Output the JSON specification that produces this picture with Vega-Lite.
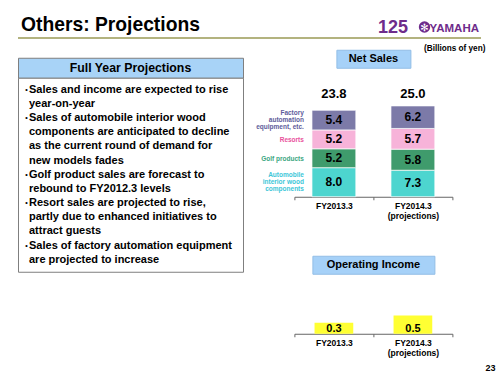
{
  "$schema": "https://vega.github.io/schema/vega-lite/v6.json",
  "padding": {"left": 17, "top": 0, "right": 0, "bottom": 0},
  "background": "white",
  "config": {"font": "Liberation Sans", "view": {"stroke": null}},
  "datasets": {
    "ns": [
      {"fy": "FY2013.3", "seg": "Automobile interior wood components", "rank": 1, "v": 8.0, "lbl": ["Automobile", "interior wood", "components"]},
      {"fy": "FY2013.3", "seg": "Golf products", "rank": 2, "v": 5.2, "lbl": "Golf products"},
      {"fy": "FY2013.3", "seg": "Resorts", "rank": 3, "v": 5.2, "lbl": "Resorts"},
      {"fy": "FY2013.3", "seg": "Factory automation equipment, etc.", "rank": 4, "v": 5.4, "lbl": ["Factory", "automation", "equipment, etc."]},
      {"fy": "FY2014.3 (projections)", "seg": "Automobile interior wood components", "rank": 1, "v": 7.3},
      {"fy": "FY2014.3 (projections)", "seg": "Golf products", "rank": 2, "v": 5.8},
      {"fy": "FY2014.3 (projections)", "seg": "Resorts", "rank": 3, "v": 5.7},
      {"fy": "FY2014.3 (projections)", "seg": "Factory automation equipment, etc.", "rank": 4, "v": 6.2}
    ],
    "oi": [
      {"fy": "FY2013.3", "v": 0.3},
      {"fy": "FY2014.3 (projections)", "v": 0.5}
    ],
    "notes": [
      {"n": 1, "t": "Sales and income are expected to rise", "b": true},
      {"n": 2, "t": "year-on-year", "b": false},
      {"n": 3, "t": "Sales of automobile interior wood", "b": true},
      {"n": 4, "t": "components are anticipated to decline", "b": false},
      {"n": 5, "t": "as the current round of demand for", "b": false},
      {"n": 6, "t": "new models fades", "b": false},
      {"n": 7, "t": "Golf product sales are forecast to", "b": true},
      {"n": 8, "t": "rebound to FY2012.3 levels", "b": false},
      {"n": 9, "t": "Resort sales are projected to rise,", "b": true},
      {"n": 10, "t": "partly due to enhanced initiatives to", "b": false},
      {"n": 11, "t": "attract guests", "b": false},
      {"n": 12, "t": "Sales of factory automation equipment", "b": true},
      {"n": 13, "t": "are projected to increase", "b": false}
    ]
  },
  "spacing": 4.75,
  "vconcat": [
    {
      "width": 463,
      "height": 38,
      "data": {"values": [{}]},
      "layer": [
        {"mark": {"type": "rule", "color": "#9a9a55", "strokeWidth": 1.5},
         "encoding": {"x": {"value": 0}, "x2": {"value": "width"}, "y": {"value": "height"}}},
        {"mark": {"type": "text", "align": "left", "baseline": "alphabetic", "fontSize": 19.3, "fontWeight": "bold", "color": "#000", "dx": 3},
         "encoding": {"x": {"value": 0}, "y": {"value": 31}, "text": {"value": "Others: Projections"}}},
        {"mark": {"type": "text", "align": "right", "baseline": "alphabetic", "fontSize": 18, "fontWeight": "bold", "color": "#6e2c8b", "dx": -73},
         "encoding": {"x": {"value": "width"}, "y": {"value": 33}, "text": {"value": "125"}}},
        {"mark": {"type": "point", "shape": "circle", "filled": true, "size": 130, "color": "#6e2c8b", "opacity": 1},
         "encoding": {"x": {"value": 406.5}, "y": {"value": 27}}},
        {"mark": {"type": "text", "align": "center", "baseline": "middle", "fontSize": 10, "color": "white", "font": "DejaVu Sans"},
         "encoding": {"x": {"value": 406.5}, "y": {"value": 27.5}, "text": {"value": "✻"}}},
        {"mark": {"type": "text", "align": "right", "baseline": "alphabetic", "fontSize": 11.5, "fontWeight": "bold", "color": "#6e2c8b", "dx": -2},
         "encoding": {"x": {"value": "width"}, "y": {"value": 32}, "text": {"value": "YAMAHA"}}}
      ]
    },
    {
      "spacing": 11.4,
      "hconcat": [
        {
          "spacing": 0,
          "bounds": "flush",
          "vconcat": [
            {"width": 225, "height": 8, "data": {"values": [{}]}, "mark": {"type": "text"}, "encoding": {"text": {"value": ""}}},
            {"width": 225, "height": 20, "data": {"values": [{}]},
             "view": {"fill": "#a8d3f7", "stroke": "#7f7f7f"},
             "mark": {"type": "text", "fontSize": 12.3, "fontWeight": "bold", "color": "#000", "baseline": "middle"},
             "encoding": {"text": {"value": "Full Year Projections"}}},
            {"width": 225, "height": 194, "data": {"name": "notes"},
             "view": {"fill": "white", "stroke": "#7f7f7f"},
             "layer": [
               {"mark": {"type": "text", "align": "left", "baseline": "middle", "fontSize": 11, "fontWeight": "bold", "color": "#000"},
                "encoding": {"x": {"value": 11}, "y": {"field": "n", "type": "ordinal", "scale": {"type": "point", "padding": 0.85}, "axis": null}, "text": {"field": "t"}}},
               {"transform": [{"filter": "datum.b"}],
                "mark": {"type": "text", "align": "center", "baseline": "middle", "fontSize": 7, "fontWeight": "bold", "color": "#000"},
                "encoding": {"x": {"value": 8.5}, "y": {"field": "n", "type": "ordinal", "axis": null}, "text": {"value": "•"}}}
             ]}
          ]
        },
        {
          "spacing": 20,
          "bounds": "flush",
          "center": true,
          "vconcat": [
            {"width": 74, "height": 18, "data": {"values": [{}]},
             "view": {"fill": "#a6d1f8", "stroke": "#92bde6"},
             "mark": {"type": "text", "fontSize": 11, "fontWeight": "bold", "color": "#000", "baseline": "middle"},
             "encoding": {"text": {"value": "Net Sales"}}},
            {
              "width": 158,
              "height": 109,
              "data": {"name": "ns"},
              "transform": [
                {"stack": "v", "groupby": ["fy"], "sort": [{"field": "rank", "order": "ascending"}], "as": ["y0", "y1"]},
                {"calculate": "(datum.y0 + datum.y1) / 2", "as": "ymid"}
              ],
              "encoding": {
                "x": {"field": "fy", "type": "nominal", "sort": null,
                      "scale": {"paddingInner": 0, "paddingOuter": 0},
                      "axis": {"title": null, "labelAngle": 0, "labelFontSize": 8.5, "labelFontWeight": "bold", "labelColor": "#000",
                               "labelExpr": "split(datum.label, ' ')", "labelLineHeight": 9.5, "labelPadding": 2, "labelBaseline": "top",
                               "tickBand": "extent", "tickSize": 3, "tickColor": "#666", "domainColor": "#666", "grid": false}}
              },
              "layer": [
                {"mark": {"type": "bar", "width": {"band": 0.555}, "stroke": "white", "strokeWidth": 0.7},
                 "encoding": {
                   "y": {"field": "y0", "type": "quantitative", "scale": {"domain": [0, 30]}, "axis": null},
                   "y2": {"field": "y1"},
                   "color": {"field": "seg", "type": "nominal", "legend": null,
                             "scale": {"domain": ["Automobile interior wood components", "Golf products", "Resorts", "Factory automation equipment, etc."],
                                       "range": ["#4dd5cf", "#3f9b6c", "#f7b3d9", "#7c7aa8"]}}
                 }},
                {"mark": {"type": "text", "fontSize": 12, "fontWeight": "bold", "color": "#000", "baseline": "middle"},
                 "encoding": {"y": {"field": "ymid", "type": "quantitative", "axis": null}, "text": {"field": "v", "format": ".1f"}}},
                {"transform": [{"filter": "datum.fy == 'FY2013.3' && (datum.rank == 1 || datum.rank == 4)"}],
                 "mark": {"type": "text", "align": "right", "baseline": "middle", "fontSize": 6.5, "fontWeight": "bold", "lineHeight": 6.8, "dx": -30, "dy": -6.8},
                 "encoding": {
                   "y": {"field": "ymid", "type": "quantitative", "axis": null},
                   "text": {"field": "lbl"},
                   "fill": {"field": "seg", "type": "nominal", "legend": null,
                            "scale": {"domain": ["Automobile interior wood components", "Golf products", "Resorts", "Factory automation equipment, etc."],
                                      "range": ["#3cc6d8", "#3ba67f", "#e9519c", "#5e5c9b"]}}
                 }},
                {"transform": [{"filter": "datum.fy == 'FY2013.3' && (datum.rank == 2 || datum.rank == 3)"}],
                 "mark": {"type": "text", "align": "right", "baseline": "middle", "fontSize": 6.5, "fontWeight": "bold", "dx": -30, "dy": 1},
                 "encoding": {
                   "y": {"field": "ymid", "type": "quantitative", "axis": null},
                   "text": {"field": "lbl"},
                   "fill": {"field": "seg", "type": "nominal", "legend": null}
                 }},
                {"transform": [{"aggregate": [{"op": "sum", "field": "v", "as": "tot"}], "groupby": ["fy"]}],
                 "mark": {"type": "text", "fontSize": 13, "fontWeight": "bold", "color": "#000", "baseline": "middle"},
                 "encoding": {"y": {"datum": 28.3, "axis": null}, "text": {"field": "tot", "format": ".1f"}}},
                {"data": {"values": [{}]},
                 "mark": {"type": "text", "align": "right", "baseline": "alphabetic", "fontSize": 8.2, "fontWeight": "bold", "color": "#000", "dx": 33, "dy": -37},
                 "encoding": {"x": {"value": "width"}, "y": {"value": 0}, "text": {"value": "(Billions of yen)"}}}
              ]
            },
            {"width": 158, "height": 19, "data": {"values": [{}]}, "mark": {"type": "text"}, "encoding": {"text": {"value": ""}}},
            {"width": 122, "height": 18, "data": {"values": [{}]},
             "view": {"fill": "#a6d1f8", "stroke": "#92bde6"},
             "mark": {"type": "text", "fontSize": 11, "fontWeight": "bold", "color": "#000", "baseline": "middle"},
             "encoding": {"text": {"value": "Operating Income"}}},
            {
              "width": 158,
              "height": 40,
              "data": {"name": "oi"},
              "encoding": {
                "x": {"field": "fy", "type": "nominal", "sort": null,
                      "scale": {"paddingInner": 0, "paddingOuter": 0},
                      "axis": {"title": null, "labelAngle": 0, "labelFontSize": 8.5, "labelFontWeight": "bold", "labelColor": "#000",
                               "labelExpr": "split(datum.label, ' ')", "labelLineHeight": 9.5, "labelPadding": 2, "labelBaseline": "top",
                               "tickBand": "extent", "tickSize": 3, "tickColor": "#666", "domainColor": "#666", "grid": false}}
              },
              "layer": [
                {"mark": {"type": "bar", "width": {"band": 0.49}, "color": "#ffff33"},
                 "encoding": {"y": {"field": "v", "type": "quantitative", "scale": {"domain": [0, 1.05]}, "axis": null}}},
                {"mark": {"type": "text", "fontSize": 11, "fontWeight": "bold", "color": "#000", "baseline": "alphabetic", "dy": -2},
                 "encoding": {"y": {"datum": 0, "axis": null}, "text": {"field": "v", "format": ".1f"}}},
                {"data": {"values": [{}]},
                 "mark": {"type": "text", "align": "right", "baseline": "middle", "fontSize": 9, "fontWeight": "bold", "color": "#000", "dx": 43, "dy": 34},
                 "encoding": {"x": {"value": "width"}, "y": {"value": "height"}, "text": {"value": "23"}}}
              ]
            }
          ]
        }
      ]
    }
  ]
}
